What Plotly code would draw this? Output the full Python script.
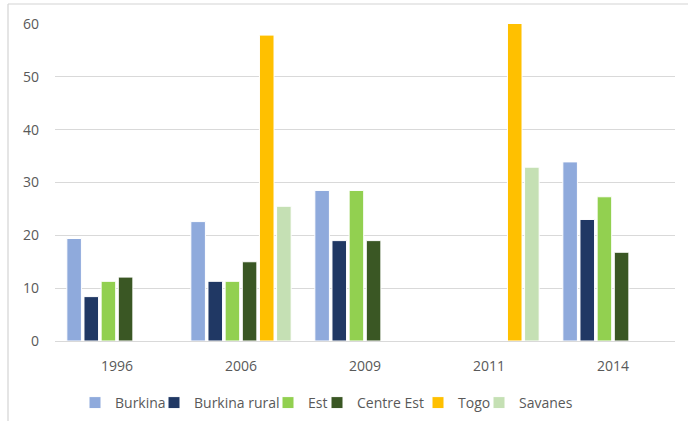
import plotly.graph_objects as go

years = ["1996", "2006", "2009", "2011", "2014"]
series_names = ["Burkina", "Burkina rural", "Est", "Centre Est", "Togo", "Savanes"]
burkina = [19.4, 22.6, 28.5, None, 33.9]
burkina_rural = [8.4, 11.3, 19.0, None, 23.0]
est = [11.3, 11.3, 28.5, None, 27.3]
centre_est = [12.1, 15.0, 19.0, None, 16.8]
togo = [None, 57.9, None, 60.2, None]
savanes = [None, 25.5, None, 32.9, None]
colors = ["#8FAADC", "#203864", "#92D050", "#3A5724", "#FFC000", "#C5E0B4"]

values = [burkina, burkina_rural, est, centre_est, togo, savanes]

W, H = 688, 421
L, R, T, B = 55, 13, 24, 80
pw = W - L - R
ph = H - T - B

# reference legend text start positions (pixels)
legend_text_px = [115, 194, 308, 357, 458, 519]
TEXT_OFFSET = 40

fig = go.Figure()
legend_layouts = {}
for i, (name, vals, col) in enumerate(zip(series_names, values, colors)):
    lname = "legend" if i == 0 else f"legend{i + 1}"
    fig.add_trace(go.Bar(
        x=years, y=vals, name=name, legend=lname,
        marker=dict(color=col, line=dict(color="white", width=1)),
    ))
    legend_layouts[lname] = dict(
        orientation="h", xref="container", yref="container",
        xanchor="left", yanchor="middle",
        x=(legend_text_px[i] - TEXT_OFFSET) / W, y=1 - 403 / H,
        font=dict(size=14, color="#595959"),
        bgcolor="rgba(0,0,0,0)",
    )

def px_to_paper_x(px):
    return (px - L) / pw

def py_to_paper_y(py):
    return (H - B - py) / ph

fig.update_layout(
    width=W, height=H,
    margin=dict(l=L, r=R, t=T, b=B, autoexpand=False),
    paper_bgcolor="white", plot_bgcolor="white",
    barmode="group", bargap=0.17, bargroupgap=0.15,
    font=dict(family="Open Sans, Noto Sans, sans-serif", color="#595959", size=14),
    showlegend=True,
    xaxis=dict(
        showgrid=False, showline=True, linecolor="#D9D9D9", linewidth=1,
        ticks="", tickfont=dict(size=14, color="#595959"),
        automargin=False, ticklabelstandoff=12,
    ),
    yaxis=dict(
        range=[0, 60], tickvals=[0, 10, 20, 30, 40, 50, 60],
        showgrid=True, gridcolor="#D9D9D9", gridwidth=1,
        zeroline=False, showline=False, ticks="",
        tickfont=dict(size=14, color="#595959"), ticklabelstandoff=15,
        automargin=False,
    ),
    shapes=[
        dict(type="line", xref="paper", yref="paper",
             x0=px_to_paper_x(8), x1=px_to_paper_x(8),
             y0=py_to_paper_y(4), y1=py_to_paper_y(421),
             line=dict(color="#D4D4D4", width=1.2)),
        dict(type="line", xref="paper", yref="paper",
             x0=px_to_paper_x(8), x1=px_to_paper_x(688),
             y0=py_to_paper_y(4), y1=py_to_paper_y(4),
             line=dict(color="#D4D4D4", width=1.2)),
    ],
    **legend_layouts,
)

fig.write_html(
    "out.html",
    config={"displayModeBar": False},
    post_script="document.body.style.margin='0';document.body.style.padding='0';",
)
